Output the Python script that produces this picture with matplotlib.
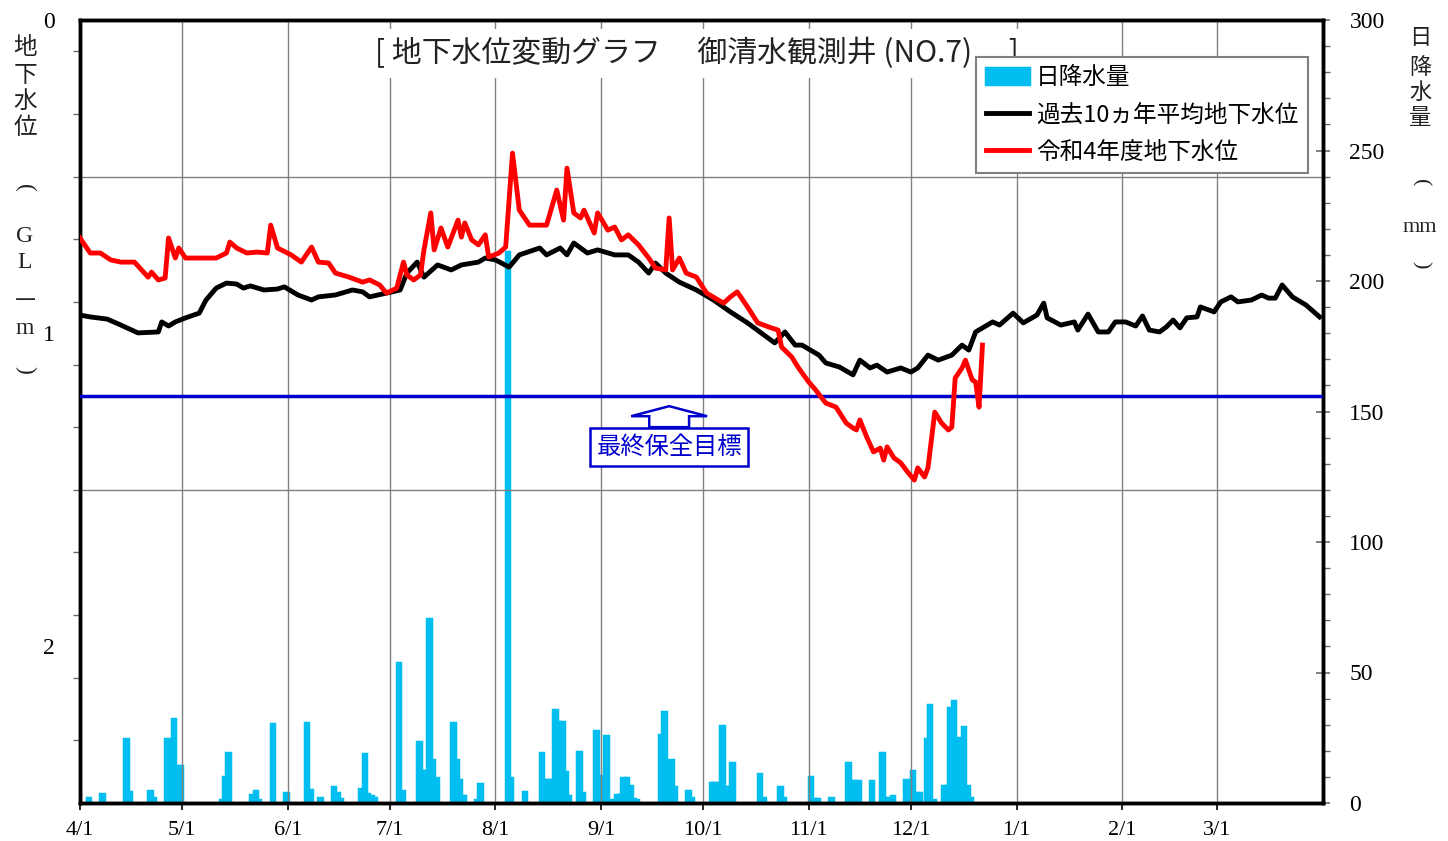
import matplotlib
matplotlib.use("Agg")
import matplotlib.pyplot as plt
import numpy as np
import pandas as pd
from matplotlib.patches import FancyArrow

# 令和4年度 (2022/4/1 - 2023/3/31), x = days since 4/1
start = pd.Timestamp("2022-04-01")

# 過去10ヵ年平均地下水位 (GL-m)
avg_days = [0, 3, 8, 12, 17, 23, 24, 26, 28, 31, 35, 37, 40, 43, 46, 48, 50, 54, 58, 60,
            64, 68, 70, 75, 80, 83, 85, 90, 94, 96, 99, 101, 105, 109, 112, 117, 119, 122, 126, 129,
            135, 137, 141, 143, 145, 149, 152, 157, 161, 164, 167, 169, 172, 176, 181, 186, 191, 196, 198, 204,
            207, 210, 212, 217, 219, 223, 227, 229, 232, 234, 237, 241, 244, 246, 249, 252, 256, 259, 261, 263,
            268, 270, 274, 277, 281, 283, 284, 288, 292, 293, 296, 299, 302, 304, 307, 310, 312, 314, 317, 319,
            321, 323, 325, 328, 329, 333, 335, 338, 340, 344, 347, 349, 351, 353, 356, 360, 364]
avg_depth = [0.942, 0.948, 0.955, 0.974, 0.999, 0.996, 0.964, 0.977, 0.964, 0.951, 0.936, 0.894, 0.856, 0.840, 0.843, 0.856, 0.849, 0.862, 0.859, 0.852,
             0.878, 0.894, 0.884, 0.878, 0.862, 0.868, 0.884, 0.872, 0.862, 0.808, 0.773, 0.821, 0.782, 0.798, 0.782, 0.773, 0.760, 0.766, 0.789, 0.750,
             0.728, 0.750, 0.728, 0.750, 0.712, 0.744, 0.734, 0.750, 0.750, 0.773, 0.808, 0.776, 0.808, 0.837, 0.862, 0.894, 0.932, 0.967, 0.983, 1.031,
             0.996, 1.038, 1.038, 1.070, 1.095, 1.108, 1.133, 1.086, 1.111, 1.102, 1.124, 1.111, 1.124, 1.111, 1.070, 1.086, 1.070, 1.038, 1.054, 0.996,
             0.964, 0.974, 0.936, 0.967, 0.942, 0.904, 0.951, 0.974, 0.964, 0.990, 0.939, 0.996, 0.996, 0.964, 0.964, 0.977, 0.945, 0.990, 0.996, 0.980,
             0.958, 0.983, 0.951, 0.948, 0.916, 0.932, 0.900, 0.884, 0.900, 0.894, 0.878, 0.888, 0.888, 0.846, 0.884, 0.910, 0.948]

# 令和4年度地下水位 (GL-m)
r4_days = [0, 3, 6, 9, 12, 16, 20, 21, 23, 25, 26, 28, 29, 31, 34, 40, 43, 44, 46, 49,
           52, 55, 56, 58, 62, 65, 68, 70, 73, 75, 79, 83, 85, 88, 90, 93, 95, 96, 98, 100,
           101, 103, 104, 106, 108, 111, 112, 113, 115, 117, 119, 120, 123, 125, 127, 129, 132, 137, 140, 142,
           143, 145, 147, 148, 151, 152, 155, 157, 159, 161, 164, 167, 169, 172, 173, 174, 176, 178, 181, 184,
           189, 191, 193, 196, 199, 203, 205, 206, 209, 211, 214, 216, 219, 222, 225, 227, 228, 229, 231, 233,
           235, 236, 237, 239, 241, 243, 245, 246, 248, 249, 251, 253, 255, 256, 257, 259, 260, 262, 263, 264, 265]
r4_depth = [0.696, 0.744, 0.744, 0.766, 0.773, 0.773, 0.821, 0.805, 0.830, 0.824, 0.696, 0.760, 0.728, 0.760, 0.760, 0.760, 0.744, 0.709, 0.728, 0.744,
            0.741, 0.744, 0.655, 0.728, 0.750, 0.773, 0.725, 0.773, 0.776, 0.808, 0.821, 0.837, 0.830, 0.846, 0.872, 0.856, 0.773, 0.814, 0.830, 0.814,
            0.734, 0.616, 0.734, 0.664, 0.725, 0.639, 0.693, 0.648, 0.702, 0.718, 0.686, 0.757, 0.744, 0.725, 0.425, 0.607, 0.655, 0.655, 0.543, 0.639,
            0.473, 0.616, 0.632, 0.607, 0.680, 0.616, 0.671, 0.661, 0.702, 0.686, 0.718, 0.760, 0.792, 0.798, 0.632, 0.798, 0.760, 0.808, 0.821, 0.872,
            0.904, 0.884, 0.868, 0.916, 0.967, 0.983, 0.990, 1.044, 1.076, 1.111, 1.156, 1.181, 1.223, 1.236, 1.287, 1.303, 1.309, 1.277, 1.331, 1.379,
            1.367, 1.405, 1.363, 1.398, 1.414, 1.443, 1.469, 1.430, 1.459, 1.430, 1.252, 1.287, 1.309, 1.300, 1.143, 1.111, 1.086, 1.149, 1.156, 1.236, 1.038]

# 日降水量 (mm)
rain_days = [2, 6, 13, 14, 20, 21, 25, 26, 27, 28, 29, 41, 42, 43, 50, 51, 52, 56, 60, 66,
             67, 70, 74, 75, 76, 82, 83, 84, 85, 86, 93, 94, 99, 100, 101, 102, 103, 104, 109, 110,
             111, 112, 116, 117, 125, 126, 130, 135, 136, 137, 138, 139, 140, 141, 142, 143, 146, 147, 151, 152,
             154, 156, 157, 158, 159, 160, 161, 162, 163, 170, 171, 172, 173, 174, 178, 179, 185, 186, 187, 188,
             189, 190, 191, 199, 200, 205, 206, 214, 215, 216, 220, 225, 226, 227, 228, 232, 235, 236, 237, 238,
             242, 243, 244, 245, 246, 248, 249, 250, 253, 254, 255, 256, 257, 258, 259, 260, 261]
rain_mm = [2, 3.3, 24.4, 4.3, 4.7, 2, 24.6, 23.5, 32.3, 14, 14, 1, 10, 19, 3, 4.5, 1, 30.3, 3.7, 30.5,
           5, 2, 6.2, 4, 1.5, 5.4, 18.6, 3.3, 2.5, 2, 53.5, 4.7, 23.5, 12.4, 12.4, 70.4, 16.5, 9.5, 30.5, 16.5,
           9, 2.5, 1, 7.3, 211, 9.5, 4.3, 19, 8.8, 8.8, 8.8, 35.6, 31, 31, 12, 2.5, 19.7, 3.7, 27.6, 10.3,
           25.5, 1, 3, 3, 9.7, 9.7, 6.5, 1.5, 1, 26, 35, 10, 16.5, 6.2, 4.6, 2, 7.8, 7.8, 7.8, 29.6,
           6.2, 6.2, 15.4, 11, 2, 6.2, 2, 10, 1.5, 1.5, 2, 15.4, 8.5, 8.5, 8.5, 8.5, 19.3, 2, 2, 2.5,
           9, 6.5, 12.4, 3.7, 3.7, 24.4, 37.5, 1, 6.5, 6.5, 36.3, 39.2, 24.8, 15.4, 29.2, 6.5, 2]

target_depth = 1.2   # 最終保全目標
label_day = 173      # 注記の位置

jp = "Noto Sans CJK JP"
num = "Liberation Serif"
cyan = "#00BFF0"
blue = "#0000CC"

fig = plt.figure(figsize=(14.48, 8.41), dpi=100)
ax = fig.add_axes([80 / 1448, 1 - 803 / 841, 1243 / 1448, 783 / 841])
ax2 = ax.twinx()
ax.set_zorder(ax2.get_zorder() + 1)
ax.patch.set_visible(False)

# 降水量の棒
bars = ax2.bar(np.array(rain_days) + 0.5, rain_mm, width=1.0, color=cyan,
               edgecolor=cyan, linewidth=2.5, label="日降水量")

# 地下水位
ax.axhline(target_depth, color=blue, lw=2.5, zorder=3)
l1, = ax.plot(avg_days, avg_depth, color="black", lw=3.5, zorder=4, label="過去10ヵ年平均地下水位")
l2, = ax.plot(r4_days, r4_depth, color="red", lw=3.5, zorder=5, label="令和4年度地下水位")

for d in [0.5, 1.5]:
    ax.axhline(d, color="gray", lw=1, zorder=1)

# x軸(月)
months = pd.date_range(start, periods=12, freq="MS")
month_pos = (months - start).days
ax.set_xlim(0, 365)
ax.set_xticks(month_pos)
ax.set_xticklabels([f"{m.month}/1" for m in months], fontfamily=num, fontsize=16)
ax.tick_params(axis="x", direction="out", length=5, width=1.2, pad=8, colors="black")
ax.grid(axis="x", color="gray", lw=1, zorder=1)

# 左軸(GL-m)
ax.set_ylim(2.5, 0)
ax.set_yticks([0, 1, 2])
ax.set_yticklabels(["0", "1", "2"], fontfamily=num, fontsize=17)
ax.set_yticks(np.arange(0.1, 2.45, 0.2), minor=True)
ax.tick_params(axis="y", which="major", length=0, pad=18)
ax.tick_params(axis="y", which="minor", length=5, width=1, color="dimgray")

# 右軸(mm)
ax2.set_ylim(0, 300)
ax2.set_yticks(np.arange(0, 301, 50))
ax2.set_yticklabels([str(v) for v in range(0, 301, 50)], fontfamily=num, fontsize=17)
ax2.set_yticks(np.arange(0, 301, 10), minor=True)
ax2.tick_params(axis="y", which="major", direction="inout", length=10, width=1.2, pad=14, color="dimgray")
ax2.tick_params(axis="y", which="minor", direction="out", length=5, width=1, color="dimgray")

for a in (ax, ax2):
    for s in a.spines.values():
        s.set_linewidth(2.5)
        s.set_color("black")

# タイトル
ax.text(0.496, 0.957, "[ 地下水位変動グラフ　 御清水観測井 (NO.7)　 ]", transform=ax.transAxes,
        ha="center", va="center", fontfamily=jp, fontsize=21.5, color="#222222", zorder=6,
        bbox=dict(boxstyle="square,pad=0.3", fc="white", ec="none"))

# 最終保全目標
ax.add_patch(FancyArrow(label_day, target_depth + 0.1, 0, -0.067, width=11.7, head_width=22.3,
                        head_length=0.032, length_includes_head=True, fc="white", ec=blue,
                        lw=1.8, zorder=6))
ax.text(label_day, target_depth + 0.162, "最終保全目標", ha="center", va="center", fontfamily=jp,
        fontsize=17.5, color=blue, zorder=7,
        bbox=dict(boxstyle="square,pad=0.25", fc="white", ec=blue, lw=1.8))

# 凡例
leg = ax.legend(handles=[bars, l1, l2], loc="upper right", bbox_to_anchor=(0.988, 0.953),
                borderaxespad=0, prop=dict(family=jp, size=17), fancybox=False, framealpha=1,
                edgecolor="#808080", handlelength=1.85, handletextpad=0.3, labelspacing=0.6,
                borderpad=0.4)
leg.get_frame().set_linewidth(1.5)
leg.set_zorder(10)

# 軸ラベル(縦書き) -- 括弧は横倒し
def vlabel(x_px, items, size):
    for ch, ypx in items:
        rot = 0
        fam = jp
        if ch in "()":
            rot = -90
            fam = num
        elif ch in ("G", "L", "m", "mm"):
            fam = num
        fig.text(x_px / 1448, 1 - ypx / 841, ch, ha="center", va="center", rotation=rot,
                 fontfamily=fam, fontsize=size, color="#222222")

vlabel(25, [("地", 48), ("下", 75), ("水", 101), ("位", 128), ("(", 188), ("G", 237),
            ("L", 263), ("—", 300), ("m", 328), (")", 370)], 17)
vlabel(1420, [("日", 37), ("降", 67), ("水", 92), ("量", 117), ("(", 183), ("mm", 228),
              (")", 265)], 16)

fig.savefig("out.png", dpi=100)
